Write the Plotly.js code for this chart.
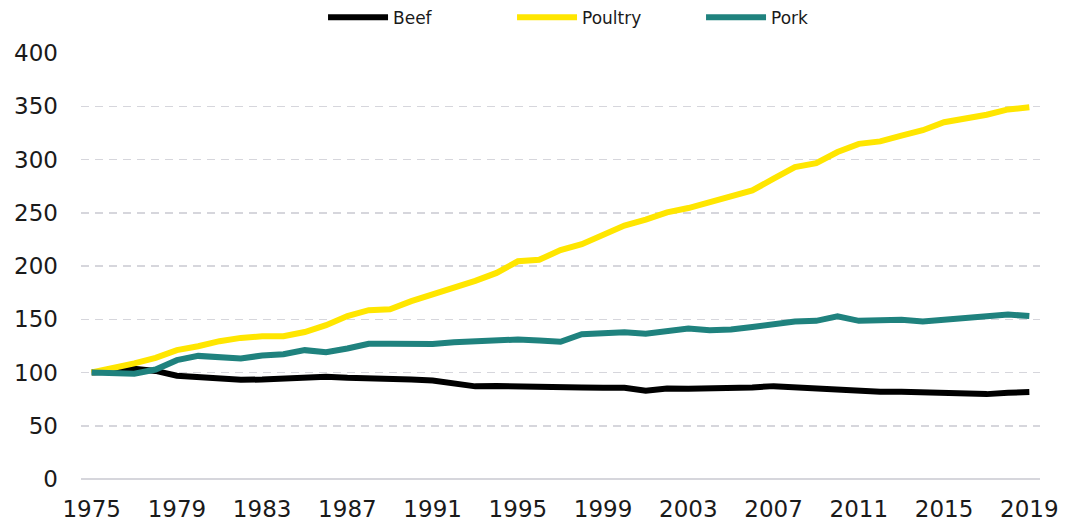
<!DOCTYPE html>
<html>
<head>
<meta charset="utf-8">
<script src="https://cdn.plot.ly/plotly-3.0.1.min.js"></script>
<style>html,body{margin:0;padding:0;background:#fff;}#chart{width:1077px;height:524px;}</style>
</head>
<body>
<div id="chart"></div>
<script>
const years = [1975,1976,1977,1978,1979,1980,1981,1982,1983,1984,1985,1986,1987,1988,1989,1990,1991,1992,1993,1994,1995,1996,1997,1998,1999,2000,2001,2002,2003,2004,2005,2006,2007,2008,2009,2010,2011,2012,2013,2014,2015,2016,2017,2018,2019];
const beef = [100,101,103.5,101.5,97,95.6,94.7,93.1,93.4,94.4,94.4,96,95,94,93.4,93.4,92.5,89.5,87,87.3,86.6,86.4,86.3,85.9,85.6,85.6,82.8,85,84.7,84.7,85,86,87.2,86,85.3,84.4,82.5,81.9,81.9,81.6,80,79.7,79.7,81,81.6];
const poultry = [100,104,108.5,113.8,121,124.7,129.4,132.5,134,134,138,144.4,153,158.5,159.4,167,173.5,178.8,186,193.5,204.4,205.8,215,220.5,229.4,238,243.5,250.3,254.4,260,264.7,271,282,292.8,296.6,307,314.7,317,322.5,327.5,335,338.5,342,347,349];
const pork = [100,99.4,98.8,102.8,111.6,115.6,114.6,113.1,116,117.2,121,119,122.5,127,127,127,126.7,128.4,129.5,130.6,131,130,128.8,136,136.6,137.8,136.3,138.1,141.3,139.7,140.3,142.8,145.3,147.8,148.5,152.8,148.5,149,149.6,148,149.6,150.3,151.6,154.4,153];
const seriesNames = ['Beef','Poultry','Pork'];
const seriesColors = ['#000000','#FFE600','#1F827E'];
const seriesData = [beef, poultry, pork];

const traces = seriesData.map((vals, i) => ({
  type: 'scatter', mode: 'lines', name: seriesNames[i], x: years, y: vals,
  line: {color: seriesColors[i], width: 6, shape: 'linear'},
  hoverinfo: 'x+y+name'
}));

const layout = {
  width: 1077, height: 524,
  margin: {l: 81, r: 37, t: 53, b: 45, pad: 0},
  paper_bgcolor: '#ffffff', plot_bgcolor: '#ffffff',
  font: {family: 'DejaVu Sans, Verdana, sans-serif', color: '#1a1a1a', size: 23},
  showlegend: true,
  legend: {
    orientation: 'h', x: 0.548, xanchor: 'center', y: 0.966, yanchor: 'middle',
    yref: 'container', xref: 'paper',
    font: {size: 17, color: '#1a1a1a'}, itemwidth: 60, entrywidth: 114, entrywidthmode: 'pixels',
    bgcolor: 'rgba(0,0,0,0)', traceorder: 'normal', itemclick: false
  },
  xaxis: {
    type: 'linear', range: [1974.5, 2019.5], tick0: 1975, dtick: 4,
    showgrid: false, zeroline: false, showline: false, ticks: '',
    ticklabelstandoff: 14, fixedrange: true
  },
  yaxis: {
    range: [0, 400], dtick: 50, tick0: 0,
    showgrid: true, gridcolor: '#D6D6DC', gridwidth: 1.5, griddash: '8px,6px',
    zeroline: true, zerolinecolor: '#D6D6DC', zerolinewidth: 2,
    showline: false, ticks: '', ticklabelstandoff: 22, fixedrange: true
  }
};

Plotly.newPlot('chart', traces, layout, {displayModeBar: false, staticPlot: true});
</script>
</body>
</html>
